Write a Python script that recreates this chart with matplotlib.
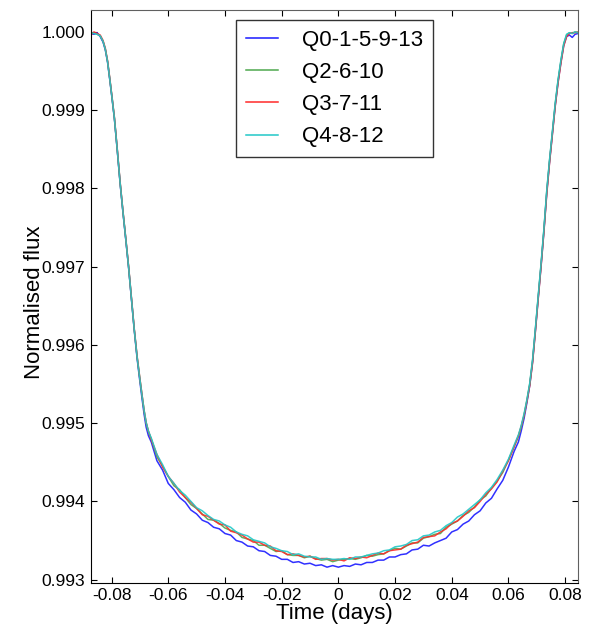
import matplotlib
matplotlib.use('Agg')
import matplotlib.pyplot as plt
from matplotlib.ticker import FuncFormatter, FixedLocator

plt.rcParams['font.family'] = ['Liberation Sans', 'DejaVu Sans']
plt.rcParams['axes.unicode_minus'] = False

# ---------------- data ----------------
time_ingress = [-0.0873, -0.0862, -0.0851, -0.0840, -0.0830, -0.0822, -0.0814, -0.0806,
                -0.0798, -0.0790, -0.0780, -0.0770, -0.0760, -0.0750, -0.0740, -0.0730,
                -0.0720, -0.0710, -0.0700, -0.0692, -0.0685, -0.0678, -0.0670]
time_bottom = [-0.066, -0.064, -0.062, -0.060, -0.058, -0.056, -0.054, -0.052, -0.050,
               -0.048, -0.046, -0.044, -0.042, -0.040, -0.038, -0.036, -0.034, -0.032,
               -0.030, -0.028, -0.026, -0.024, -0.022, -0.020, -0.018, -0.016, -0.014,
               -0.012, -0.010, -0.008, -0.006, -0.004, -0.002, 0.000, 0.002, 0.004,
               0.006, 0.008, 0.010, 0.012, 0.014, 0.016, 0.018, 0.020, 0.022, 0.024,
               0.026, 0.028, 0.030, 0.032, 0.034, 0.036, 0.038, 0.040, 0.042, 0.044,
               0.046, 0.048, 0.050, 0.052, 0.054, 0.056, 0.058, 0.060, 0.062]
time_egress = [0.0635, 0.0645, 0.0655, 0.0665, 0.0675, 0.0685, 0.0695, 0.0705, 0.0715,
               0.0725, 0.0735, 0.0745, 0.0755, 0.0765, 0.0775, 0.0785, 0.0795, 0.0805,
               0.0815, 0.0825, 0.0835, 0.0846]
time = time_ingress + time_bottom + time_egress

labels = ['Q0-1-5-9-13', 'Q2-6-10', 'Q3-7-11', 'Q4-8-12']

flux_q0 = [
    0.99998, 0.99997, 0.99999, 0.99994, 0.99987, 0.99977, 0.99961, 0.99938, 0.99914, 0.99889,
    0.99849, 0.99807, 0.99770, 0.99735, 0.99699, 0.99659, 0.99619, 0.99583, 0.99553, 0.99530,
    0.99511, 0.99495, 0.99484,
    0.99476, 0.99452, 0.99440, 0.99423, 0.99415, 0.99405, 0.99399, 0.99389, 0.99384, 0.99376,
    0.99373, 0.99367, 0.99365, 0.99359, 0.99357, 0.99350, 0.99348, 0.99343, 0.99342, 0.99337,
    0.99336, 0.99331, 0.99330, 0.99326, 0.99326, 0.99322, 0.99323, 0.99320, 0.99321, 0.99318,
    0.99319, 0.99316, 0.99318, 0.99316, 0.99318, 0.99317, 0.99320, 0.99319, 0.99322, 0.99322,
    0.99325, 0.99325, 0.99329, 0.99329, 0.99332, 0.99333, 0.99338, 0.99339, 0.99344, 0.99343,
    0.99347, 0.99350, 0.99353, 0.99361, 0.99364, 0.99371, 0.99375, 0.99383, 0.99388, 0.99398,
    0.99404, 0.99416, 0.99427, 0.99444, 0.99464,
    0.99476, 0.99490, 0.99506, 0.99526, 0.99548, 0.99578, 0.99618, 0.99660, 0.99701, 0.99745,
    0.99794, 0.99834, 0.99870, 0.99906, 0.99936, 0.99961, 0.99983, 0.99994, 0.99996, 0.99993,
    0.99997, 0.99998]

flux_q2 = [
    0.99998, 0.99999, 0.99997, 0.99995, 0.99988, 0.99978, 0.99962, 0.99939, 0.99915, 0.99890,
    0.99850, 0.99808, 0.99771, 0.99736, 0.99700, 0.99660, 0.99620, 0.99585, 0.99556, 0.99534,
    0.99515, 0.99500, 0.99489,
    0.99480, 0.99457, 0.99445, 0.99432, 0.99420, 0.99415, 0.99405, 0.99396, 0.99391, 0.99384,
    0.99377, 0.99376, 0.99372, 0.99366, 0.99363, 0.99361, 0.99354, 0.99352, 0.99350, 0.99344,
    0.99344, 0.99340, 0.99336, 0.99337, 0.99332, 0.99331, 0.99331, 0.99328, 0.99330, 0.99327,
    0.99325, 0.99326, 0.99323, 0.99325, 0.99326, 0.99327, 0.99326, 0.99328, 0.99331, 0.99330,
    0.99332, 0.99333, 0.99337, 0.99340, 0.99339, 0.99343, 0.99347, 0.99347, 0.99353, 0.99355,
    0.99358, 0.99359, 0.99367, 0.99371, 0.99375, 0.99382, 0.99386, 0.99393, 0.99402, 0.99407,
    0.99417, 0.99426, 0.99437, 0.99453, 0.99470,
    0.99483, 0.99495, 0.99510, 0.99529, 0.99550, 0.99580, 0.99620, 0.99662, 0.99703, 0.99747,
    0.99796, 0.99836, 0.99872, 0.99908, 0.99938, 0.99963, 0.99985, 0.99996, 0.99999, 0.99998,
    1.00000, 0.99999]

flux_q3 = [
    0.99996, 1.00000, 0.99998, 0.99996, 0.99989, 0.99979, 0.99963, 0.99940, 0.99916, 0.99891,
    0.99851, 0.99809, 0.99772, 0.99737, 0.99701, 0.99661, 0.99621, 0.99586, 0.99557, 0.99535,
    0.99516, 0.99501, 0.99490,
    0.99479, 0.99460, 0.99444, 0.99432, 0.99423, 0.99412, 0.99405, 0.99399, 0.99391, 0.99383,
    0.99381, 0.99376, 0.99371, 0.99370, 0.99362, 0.99360, 0.99357, 0.99352, 0.99348, 0.99348,
    0.99344, 0.99343, 0.99337, 0.99336, 0.99332, 0.99333, 0.99331, 0.99329, 0.99330, 0.99326,
    0.99327, 0.99327, 0.99325, 0.99326, 0.99324, 0.99328, 0.99327, 0.99329, 0.99328, 0.99331,
    0.99334, 0.99333, 0.99337, 0.99338, 0.99339, 0.99344, 0.99346, 0.99348, 0.99354, 0.99355,
    0.99356, 0.99361, 0.99365, 0.99372, 0.99375, 0.99381, 0.99388, 0.99392, 0.99400, 0.99409,
    0.99416, 0.99425, 0.99439, 0.99452, 0.99470,
    0.99484, 0.99496, 0.99510, 0.99528, 0.99548, 0.99577, 0.99617, 0.99659, 0.99700, 0.99744,
    0.99792, 0.99833, 0.99869, 0.99905, 0.99935, 0.99960, 0.99982, 0.99994, 0.99998, 0.99999,
    0.99999, 1.00000]

flux_q4 = [
    0.99999, 0.99998, 0.99997, 0.99995, 0.99988, 0.99978, 0.99962, 0.99939, 0.99915, 0.99890,
    0.99850, 0.99808, 0.99771, 0.99736, 0.99700, 0.99660, 0.99620, 0.99585, 0.99556, 0.99534,
    0.99516, 0.99501, 0.99490,
    0.99481, 0.99460, 0.99447, 0.99432, 0.99423, 0.99414, 0.99408, 0.99400, 0.99392, 0.99388,
    0.99382, 0.99377, 0.99375, 0.99370, 0.99367, 0.99361, 0.99358, 0.99356, 0.99351, 0.99349,
    0.99347, 0.99342, 0.99340, 0.99337, 0.99336, 0.99332, 0.99333, 0.99330, 0.99329, 0.99329,
    0.99326, 0.99327, 0.99326, 0.99326, 0.99327, 0.99326, 0.99329, 0.99329, 0.99331, 0.99333,
    0.99334, 0.99337, 0.99338, 0.99342, 0.99343, 0.99345, 0.99350, 0.99351, 0.99356, 0.99357,
    0.99361, 0.99363, 0.99369, 0.99373, 0.99380, 0.99384, 0.99390, 0.99396, 0.99402, 0.99411,
    0.99418, 0.99428, 0.99440, 0.99454, 0.99472,
    0.99485, 0.99497, 0.99512, 0.99530, 0.99551, 0.99581, 0.99621, 0.99663, 0.99704, 0.99748,
    0.99797, 0.99837, 0.99873, 0.99909, 0.99939, 0.99964, 0.99985, 0.99997, 0.99999, 0.99998,
    1.00000, 0.99999]

colors = ['#1a1aff', '#4ea84e', '#ff2a2a', '#22c8c8']

x_ticks = [-0.08, -0.06, -0.04, -0.02, 0.0, 0.02, 0.04, 0.06, 0.08]
y_ticks = [0.993, 0.994, 0.995, 0.996, 0.997, 0.998, 0.999, 1.000]

# ---------------- figure ----------------
fig = plt.figure(figsize=(5.9, 6.26), dpi=100)
ax = fig.add_axes([0.154, 0.069, 0.826, 0.915])

for flux, lab, col in zip([flux_q0, flux_q2, flux_q3, flux_q4], labels, colors):
    ax.plot(time, flux, color=col, lw=1.1, alpha=0.9, label=lab)

ax.set_xlim(-0.0873, 0.0846)
ax.set_ylim(0.99296, 1.00028)
ax.xaxis.set_major_locator(FixedLocator(x_ticks))
ax.yaxis.set_major_locator(FixedLocator(y_ticks))
ax.xaxis.set_major_formatter(FuncFormatter(lambda v, p: '%g' % round(v, 3)))
ax.yaxis.set_major_formatter(FuncFormatter(lambda v, p: '%.3f' % v))

ax.tick_params(direction='in', top=True, right=True, length=4, width=0.8,
               labelsize=12.5, colors='black', pad=4)
for side in ['top', 'right']:
    ax.spines[side].set_color('#606060')
for side in ['left', 'bottom']:
    ax.spines[side].set_color('black')

ax.set_xlabel('Time (days)', fontsize=16, labelpad=0)
ax.set_ylabel('Normalised flux', fontsize=16)
ax.yaxis.set_label_coords(-0.094, 0.49)

leg = ax.legend(loc='upper center', fontsize=16, frameon=True, fancybox=False,
                edgecolor='black', handlelength=1.45, handletextpad=1.1,
                labelspacing=0.5, borderpad=0.45, borderaxespad=0.45)
leg.get_frame().set_linewidth(1.0)
for line in leg.get_lines():
    line.set_alpha(1.0)

fig.savefig('out.png', dpi=100)
